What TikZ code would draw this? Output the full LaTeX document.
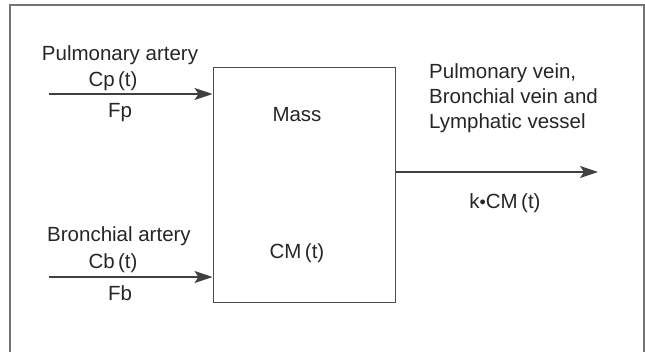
\documentclass[tikz,border=0pt]{standalone}
\usepackage{fontspec}
\setmainfont{Liberation Sans}
\usetikzlibrary{arrows.meta}
\begin{document}
\begin{tikzpicture}[x=1pt,y=-1pt,
  lbl/.style={inner sep=0pt,font=\fontsize{20.5}{24}\selectfont,text=black!85},
  flow/.style={draw=black!75,line width=1.3pt,-{Stealth[length=18pt,width=12pt,inset=4pt]}},
  frame/.style={draw=black!55,line width=1.3pt}]
\useasboundingbox (0,0) rectangle (645,351);
\draw[frame] (10,360) -- (10,5) -- (644,5) -- (644,360);
\node[draw=black!70,line width=1pt,minimum width=182pt,minimum height=235pt,inner sep=0pt] (box) at (304,184.5) {};
\coordinate (pin) at (49,94);
\coordinate (bin) at (49,277);
\coordinate (pend) at (box.west |- pin);
\coordinate (bend) at (box.west |- bin);
\coordinate (ostart) at (box.east |- 0,172);
\coordinate (oend) at (598,172);
\draw[flow] (pin) -- (pend);
\draw[flow] (bin) -- (bend);
\draw[flow] (ostart) -- (oend);
\node[lbl] (pa) at (120,55) {Pulmonary artery};
\node[lbl] (cp) at (113,81) {Cp\,(t)};
\node[lbl] (fp) at (120,113) {Fp};
\node[lbl] (mass) at (297,115) {Mass};
\node[lbl] (cm) at (297,253) {CM\,(t)};
\node[lbl] (ba) at (119,236) {Bronchial artery};
\node[lbl] (cb) at (113,263) {Cb\,(t)};
\node[lbl] (fb) at (120,293) {Fb};
\node[lbl,anchor=west,align=left,font=\fontsize{20.5}{25}\selectfont] (out) at (429,98) {Pulmonary vein,\\Bronchial vein and\\Lymphatic vessel};
\node[lbl] (k) at (505,203) {k\raisebox{0.25ex}{\scalebox{0.6}{$\bullet$}}CM\,(t)};
\end{tikzpicture}
\end{document}
